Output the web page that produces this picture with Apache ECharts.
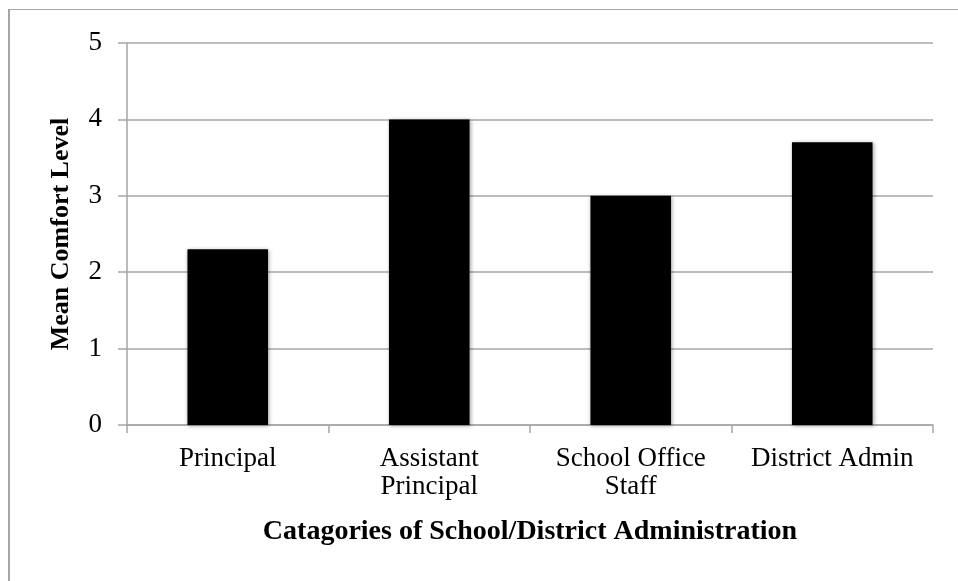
<!DOCTYPE html>
<html>
<head>
<meta charset="utf-8">
<script src="https://cdn.jsdelivr.net/npm/echarts@6/dist/echarts.min.js"></script>
<style>
  html, body { margin: 0; padding: 0; background: #fff; }
  #frame {
    position: absolute; left: 8px; top: 9px; width: 1000px; height: 1000px;
    border-left: 2px solid #a6a6a6; border-top: 1px solid #a6a6a6;
    box-sizing: border-box;
  }
  #chart { position: absolute; left: 0; top: 0; width: 958px; height: 581px; }
</style>
</head>
<body>
<div id="frame"></div>
<div id="chart"></div>
<script>
// Mean comfort level by administration category
const categories = ['Principal', 'Assistant\nPrincipal', 'School Office\nStaff', 'District Admin'];
const meanComfort = [2.3, 4.0, 3.0, 3.7];
const yTicks = { min: 0, max: 5, interval: 1 };
const xTitle = 'Catagories of School/District Administration';
const yTitle = 'Mean Comfort Level';

const serif = '"Liberation Serif", "Times New Roman", serif';
const gridGray = '#a6a6a6';

const chart = echarts.init(document.getElementById('chart'), null, { renderer: 'canvas' });
chart.setOption({
  animation: false,
  backgroundColor: 'transparent',
  grid: { left: 127, right: 25, top: 43, bottom: 156, containLabel: false },
  xAxis: {
    type: 'category',
    data: categories,
    boundaryGap: true,
    name: xTitle,
    nameLocation: 'middle',
    nameGap: 93,
    nameTextStyle: { fontFamily: serif, fontSize: 28, fontWeight: 'bold', color: '#000' },
    axisLine: { show: true, lineStyle: { color: gridGray, width: 1.5 } },
    axisTick: { show: true, length: 8, lineStyle: { color: gridGray, width: 1.5 } },
    axisLabel: {
      fontFamily: serif, fontSize: 27, color: '#000',
      margin: 20, lineHeight: 28, interval: 0
    },
    splitLine: { show: false }
  },
  yAxis: {
    type: 'value',
    min: yTicks.min, max: yTicks.max, interval: yTicks.interval,
    name: yTitle,
    nameLocation: 'middle',
    nameGap: 53,
    nameRotate: 90,
    nameTextStyle: { fontFamily: serif, fontSize: 26, fontWeight: 'bold', color: '#000' },
    axisLine: { show: true, lineStyle: { color: gridGray, width: 1.5 } },
    axisTick: { show: true, length: 9, lineStyle: { color: gridGray, width: 1.5 } },
    axisLabel: { fontFamily: serif, fontSize: 27, color: '#000', margin: 25 },
    splitLine: { show: true, lineStyle: { color: gridGray, width: 1.5 } }
  },
  series: [{
    type: 'bar',
    data: meanComfort,
    barWidth: '40%',
    itemStyle: {
      color: '#000',
      shadowColor: 'rgba(0,0,0,0.35)',
      shadowBlur: 4,
      shadowOffsetX: 1,
      shadowOffsetY: 1
    }
  }]
});
</script>
</body>
</html>
